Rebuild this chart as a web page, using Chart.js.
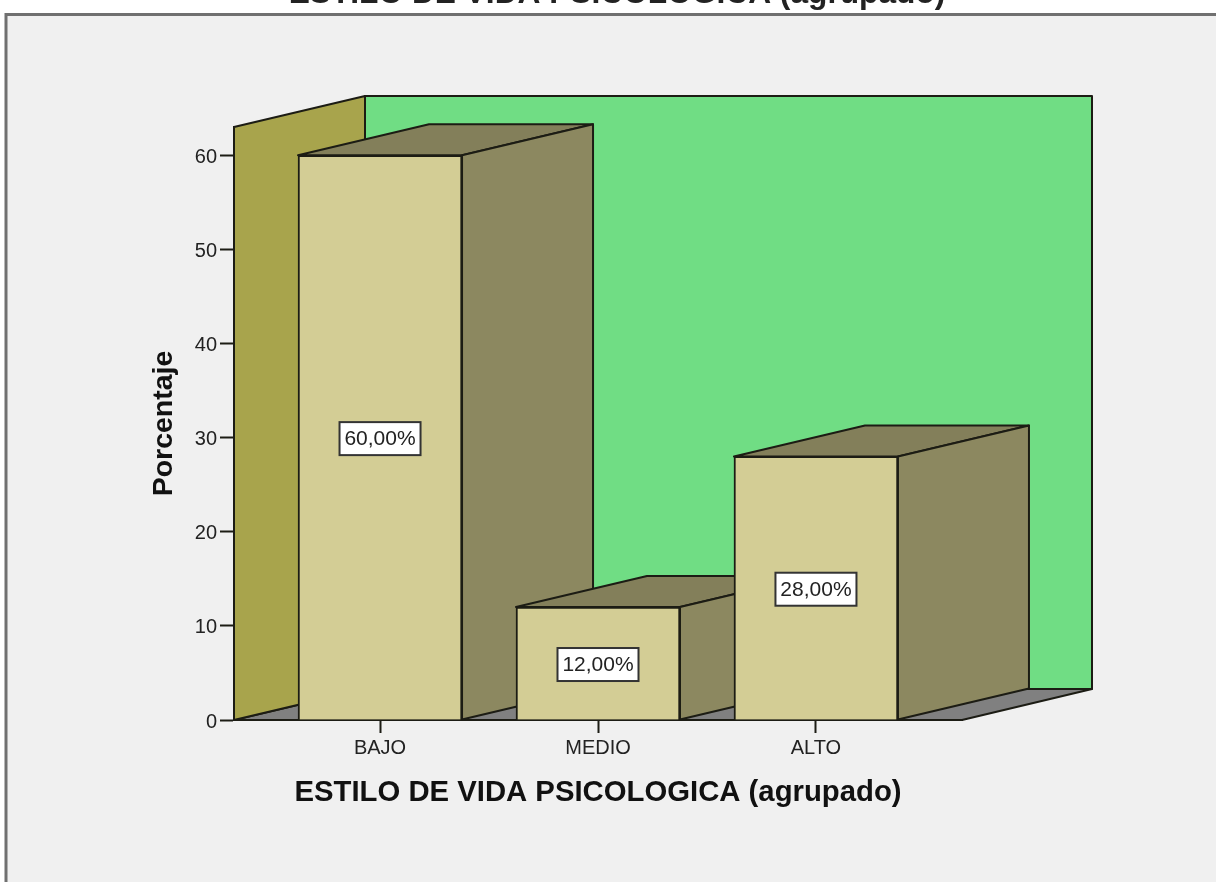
<!DOCTYPE html>
<html>
<head>
<meta charset="utf-8">
<style>html,body{margin:0;padding:0;background:#fff}canvas{display:block}</style>
<script src="https://cdn.jsdelivr.net/npm/chart.js@4/dist/chart.umd.js"></script>
</head>
<body>
<canvas id="c" width="1216" height="882"></canvas>
<script>
const categories = ['BAJO', 'MEDIO', 'ALTO'];
const percentages = [60, 12, 28];
const percentLabels = ['60,00%', '12,00%', '28,00%'];
const yTicks = [0, 10, 20, 30, 40, 50, 60];
const chartTitle = 'ESTILO DE VIDA PSICOLOGICA (agrupado)';
const xTitle = 'ESTILO DE VIDA PSICOLOGICA (agrupado)';
const yTitle = 'Porcentaje';

const FONT = '"Liberation Sans", Arial, sans-serif';
const DX = 131, DY = 31, EDGE = '#1c1c14';
const poly = (ctx, pts, fill) => {
  ctx.beginPath();
  pts.forEach((p, i) => i ? ctx.lineTo(p[0], p[1]) : ctx.moveTo(p[0], p[1]));
  ctx.closePath();
  ctx.fillStyle = fill; ctx.fill();
  ctx.lineWidth = 2; ctx.strokeStyle = EDGE; ctx.lineJoin = 'round'; ctx.stroke();
};
const box3d = {
  id: 'box3d',
  beforeDraw(chart) {
    const ctx = chart.ctx;
    ctx.save();
    ctx.fillStyle = '#ffffff'; ctx.fillRect(0, 0, 1216, 882);
    ctx.fillStyle = '#f0f0f0'; ctx.fillRect(6, 14, 1230, 890);
    ctx.strokeStyle = '#707070'; ctx.lineWidth = 3; ctx.strokeRect(6, 14.5, 1230, 890);
    ctx.fillStyle = '#222'; ctx.font = 'bold 31.7px ' + FONT;
    ctx.textAlign = 'center'; ctx.textBaseline = 'alphabetic';
    ctx.fillText(chartTitle, 617, 3);
    ctx.restore();
  },
  beforeDatasetsDraw(chart) {
    const ctx = chart.ctx, a = chart.chartArea;
    const L = a.left, R = a.right, T = a.top, B = a.bottom;
    ctx.save();
    poly(ctx, [[L + DX, T - DY], [R + DX - 1, T - DY], [R + DX - 1, B - DY], [L + DX, B - DY]], '#70dd84');
    poly(ctx, [[L, B], [R, B], [R + DX - 1, B - DY], [L + DX, B - DY]], '#808080');
    poly(ctx, [[L, T], [L + DX, T - DY], [L + DX, B - DY], [L, B]], '#a8a44c');
    chart.getDatasetMeta(0).data.forEach(bar => {
      const l = bar.x - bar.width / 2, r = bar.x + bar.width / 2, t = bar.y, b = bar.base;
      poly(ctx, [[l, t], [l + DX, t - DY], [r + DX, t - DY], [r, t]], '#837f5a');
      poly(ctx, [[r, t], [r + DX, t - DY], [r + DX, b - DY], [r, b]], '#8c8860');
    });
    ctx.restore();
  },
  afterDatasetsDraw(chart) {
    const ctx = chart.ctx, y = chart.scales.y;
    ctx.save();
    ctx.font = '21px ' + FONT;
    ctx.textAlign = 'center'; ctx.textBaseline = 'middle';
    chart.getDatasetMeta(0).data.forEach((bar, i) => {
      const cy = y.getPixelForValue(percentages[i] / 2) + 1;
      const w = 81, h = 33;
      ctx.fillStyle = '#ffffff'; ctx.fillRect(bar.x - w / 2, cy - h / 2, w, h);
      ctx.strokeStyle = '#333'; ctx.lineWidth = 2; ctx.strokeRect(bar.x - w / 2, cy - h / 2, w, h);
      ctx.fillStyle = '#222'; ctx.fillText(percentLabels[i], bar.x, cy + 1);
    });
    ctx.restore();
  }
};

new Chart(document.getElementById('c'), {
  type: 'bar',
  data: {
    labels: categories,
    datasets: [{
      data: percentages,
      backgroundColor: '#d3cd95',
      borderColor: EDGE,
      borderWidth: 2,
      barThickness: 164
    }]
  },
  plugins: [box3d],
  options: {
    responsive: false,
    animation: false,
    events: [],
    layout: { padding: { left: 147, right: 254, top: 127, bottom: 72 } },
    plugins: { legend: { display: false }, title: { display: false }, tooltip: { enabled: false } },
    scales: {
      x: {
        type: 'category',
        offset: false,
        afterBuildTicks(s) { s._startValue = -0.67; s._valueRange = 3.34; },
        afterFit(s) { s.height = 90; },
        border: { color: EDGE, width: 2 },
        grid: { offset: false, drawOnChartArea: false, drawTicks: true, tickLength: 13, tickColor: EDGE, tickWidth: 2 },
        ticks: { color: '#222', font: { family: FONT, size: 20 }, padding: 3, maxRotation: 0, autoSkip: false },
        title: { display: true, text: xTitle, color: '#111', font: { family: FONT, size: 29.3, weight: 'bold' }, padding: 0 }
      },
      y: {
        min: 0,
        max: 63,
        afterFit(s) { s.width = 87; },
        afterBuildTicks(s) { s.ticks = yTicks.map(v => ({ value: v })); },
        border: { color: EDGE, width: 2 },
        grid: { drawOnChartArea: false, drawTicks: true, tickLength: 14, tickColor: EDGE, tickWidth: 2 },
        ticks: { color: '#222', font: { family: FONT, size: 20 }, padding: 3, labelOffset: 2 },
        title: { display: true, text: yTitle, color: '#111', font: { family: FONT, size: 28.5, weight: 'bold' }, padding: 0 }
      }
    }
  }
});
</script>
</body>
</html>
